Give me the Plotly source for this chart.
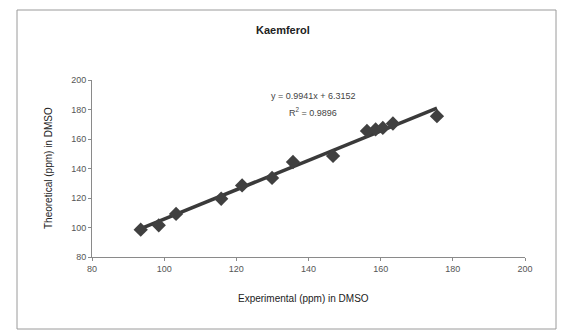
import plotly.graph_objects as go

# Data
experimental = [93.5, 98.5, 103.3, 115.8, 121.6, 129.9, 135.7, 146.8, 156.2, 158.6, 160.6, 163.4, 175.6]
theoretical = [98.5, 101.5, 109.2, 119.5, 128.5, 133.6, 144.4, 148.5, 165.5, 166.5, 167.5, 170.5, 175.5]
slope = 0.9941
intercept = 6.3152
r_squared = 0.9896
x_ticks = [80, 100, 120, 140, 160, 180, 200]
y_ticks = [80, 100, 120, 140, 160, 180, 200]

L, R, T, B = 92, 37, 80, 75
W, H = 562, 332
pw, ph = W - L - R, H - T - B

def px(x):
    return (x - L) / pw

def py(y):
    return (H - B - y) / ph

fig = go.Figure()

xmin, xmax = min(experimental), max(experimental)
fig.add_trace(go.Scatter(
    x=[xmin, xmax], y=[slope * xmin + intercept, slope * xmax + intercept],
    mode="lines", line=dict(color="#3a3a3a", width=3.5), showlegend=False, hoverinfo="skip"))

fig.add_trace(go.Scatter(
    x=experimental, y=theoretical, mode="markers",
    marker=dict(symbol="diamond", size=11, color="#404040"),
    showlegend=False))

axis_common = dict(
    showgrid=False, zeroline=False, showline=True, linecolor="#8a8a8a", linewidth=1,
    ticks="outside", ticklen=3, tickcolor="#8a8a8a",
    tickfont=dict(family="Liberation Sans, Arial", size=9, color="#555555"),
)

fig.update_layout(
    width=W, height=H,
    margin=dict(l=L, r=R, t=T, b=B),
    paper_bgcolor="white", plot_bgcolor="white",
    xaxis=dict(range=[80, 200], tickvals=x_ticks, ticktext=[str(v) for v in x_ticks], **axis_common),
    yaxis=dict(range=[80, 200], tickvals=y_ticks, ticktext=[str(v) for v in y_ticks], **axis_common),
    font=dict(family="Liberation Sans, Arial"),
)

# Chart border
fig.add_shape(type="rect", xref="paper", yref="paper",
              x0=px(17), x1=px(556), y0=py(329), y1=py(10),
              line=dict(color="#9a9a9a", width=1), layer="below")

ann = []
ann.append(dict(text="<b>Kaemferol</b>", x=px(283), y=py(30), xref="paper", yref="paper",
                showarrow=False, font=dict(size=11, color="#222222"), xanchor="center", yanchor="middle"))
ann.append(dict(text=f"y = {slope}x + {intercept}", x=px(313), y=py(96), xref="paper", yref="paper",
                showarrow=False, font=dict(size=9, color="#444444"), xanchor="center", yanchor="middle"))
ann.append(dict(text=f"R<sup>2</sup> = {r_squared}", x=px(313), y=py(112), xref="paper", yref="paper",
                showarrow=False, font=dict(size=9, color="#444444"), xanchor="center", yanchor="middle"))
ann.append(dict(text="Experimental (ppm) in DMSO", x=px(303), y=py(298), xref="paper", yref="paper",
                showarrow=False, font=dict(size=10, color="#222222"), xanchor="center", yanchor="middle"))
ann.append(dict(text="Theoretical (ppm) in DMSO", x=px(48), y=py(168), xref="paper", yref="paper",
                showarrow=False, textangle=-90, font=dict(size=10, color="#222222"),
                xanchor="center", yanchor="middle"))
fig.update_layout(annotations=ann)

fig.write_html("out.html")
